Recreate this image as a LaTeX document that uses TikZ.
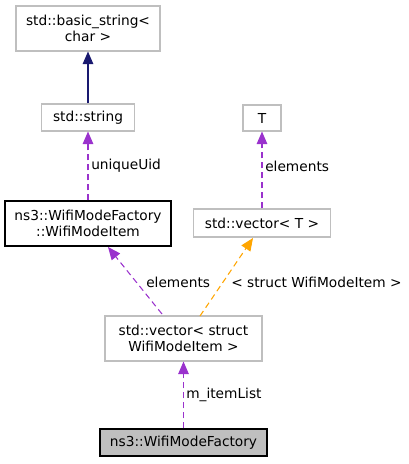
\documentclass[tikz,border=0pt]{standalone}
\usepackage{fontspec}
\setmainfont{DejaVu Sans}
\usetikzlibrary{arrows.meta}
\definecolor{purp}{HTML}{9A32CD}
\definecolor{navy}{HTML}{191970}
\definecolor{orng}{HTML}{FFA500}
\definecolor{gbord}{HTML}{BFBFBF}
\begin{document}
\begin{tikzpicture}[x=0.75pt,y=-0.75pt,
  every node/.style={font=\fontsize{10.3}{12}\selectfont, inner sep=0pt, align=center},
  gbox/.style={draw=gbord, fill=white, line width=0.8pt, minimum height=#1*0.75pt},
  bbox/.style={draw=black, line width=0.8pt, minimum height=#1*0.75pt},
  tip/.style={-{Triangle[length=9.5pt,width=8pt]}},
  purpe/.style={draw=purp, dash pattern=on 4.5pt off 3pt, line width=0.8pt, tip},
  lbl/.style={font=\fontsize{10.3}{12}\selectfont, anchor=west}]
\useasboundingbox (0,0) rectangle (408,464);
\node[gbox=45, minimum width=144*0.75pt] (bs) at (88,28.5) {std::basic\_string<\\char >};
\node[gbox=27, minimum width=93*0.75pt] (ss) at (88,117.5) {std::string};
\node[bbox=45, minimum width=166*0.75pt] (wmi) at (88,223.5) {ns3::WifiModeFactory\\::WifiModeItem};
\node[gbox=26, minimum width=38*0.75pt] (t) at (262,118) {T};
\node[gbox=28, minimum width=137*0.75pt] (vt) at (262,223) {std::vector< T >};
\node[gbox=45, minimum width=157*0.75pt] (vs) at (183.5,338.5) {std::vector< struct\\WifiModeItem >};
\node[bbox=27, minimum width=167*0.75pt, fill=gbord] (wmf) at (183.5,442.5) {ns3::WifiModeFactory};
\draw[navy, line width=0.8pt, tip] (ss) -- (bs);
\draw[purpe] (wmi) -- (ss);
\node[lbl] (lu) at (91,166) {uniqueUid};
\draw[purpe] (vt) -- (t);
\node[lbl] (lt) at (265,166) {elements};
\coordinate (a1) at (162,314);
\coordinate (a2) at (108,247);
\draw[purpe] (a1) -- (a2);
\node[lbl] (le) at (146,282) {elements};
\coordinate (o1) at (200,316);
\coordinate (o2) at (253,238);
\draw[draw=orng, dash pattern=on 4.5pt off 3pt, line width=0.8pt, tip] (o1) -- (o2);
\node[lbl] (lo) at (231,282) {< struct WifiModeItem >};
\draw[purpe] (wmf) -- (vs);
\node[lbl] (lm) at (186,395) {m\_itemList};
\end{tikzpicture}
\end{document}
